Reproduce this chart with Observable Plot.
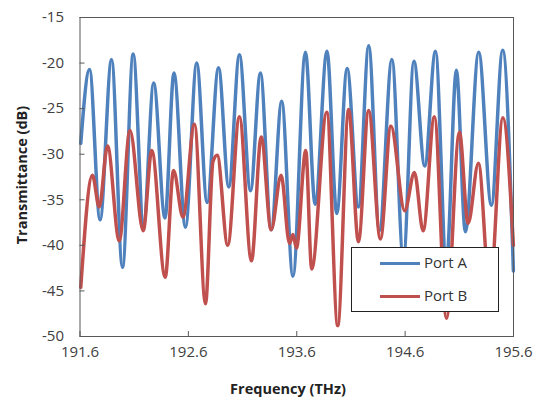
<!DOCTYPE html>
<html><head><meta charset="utf-8">
<script src="https://cdn.jsdelivr.net/npm/d3@7"></script>
<script src="https://cdn.jsdelivr.net/npm/@observablehq/plot@0.6"></script>
<style>
body{margin:0;background:#fff;}
#wrap{position:relative;width:539px;height:400px;font-family:"Open Sans",sans-serif;color:#404040;}
#legend{position:absolute;left:351px;top:247px;width:148px;height:65px;background:#fff;border:1px solid #222;box-sizing:border-box;}
.li{position:absolute;left:28px;width:40px;height:3px;}
.lt{position:absolute;left:72px;font-size:15px;color:#333;line-height:20px;}
#xt{position:absolute;left:0;width:576px;top:379px;text-align:center;font-weight:bold;font-size:14.5px;color:#222;}
#yt{position:absolute;left:21px;top:175px;transform:translate(-50%,-50%) rotate(-90deg);font-weight:bold;font-size:14.5px;color:#222;white-space:nowrap;}
</style></head><body><div id="wrap"></div>
<script>
const freqA = [191.607,191.688,191.785,191.891,191.992,192.091,192.186,192.280,192.384,192.467,192.573,192.677,192.773,192.878,192.973,193.071,193.173,193.265,193.364,193.461,193.565,193.680,193.770,193.879,193.969,194.065,194.169,194.264,194.363,194.478,194.584,194.681,194.781,194.880,194.981,195.073,195.156,195.279,195.396,195.500,195.599];
const dbA = [-28.8,-20.7,-37.2,-19.6,-42.4,-19.0,-37.8,-22.2,-37.0,-21.1,-38.0,-20.0,-35.3,-20.5,-33.6,-19.1,-34.0,-21.1,-38.3,-24.2,-43.4,-18.8,-35.5,-18.7,-36.5,-20.6,-35.8,-18.1,-38.4,-19.6,-41.5,-19.8,-31.3,-18.7,-42.0,-20.8,-38.5,-18.8,-35.6,-18.6,-42.8];
const freqB = [191.607,191.715,191.777,191.854,191.962,192.061,192.183,192.262,192.386,192.463,192.550,192.656,192.758,192.827,192.866,192.963,193.071,193.182,193.272,193.364,193.456,193.533,193.565,193.597,193.683,193.738,193.877,193.978,194.079,194.169,194.263,194.372,194.469,194.596,194.686,194.766,194.870,194.981,195.101,195.181,195.276,195.382,195.502,195.599];
const dbB = [-44.6,-32.3,-35.8,-29.1,-39.5,-27.4,-38.4,-29.6,-43.5,-31.8,-36.9,-26.7,-46.4,-30.8,-30.1,-40.0,-25.9,-41.7,-28.1,-38.3,-32.3,-39.8,-38.8,-40.3,-29.6,-42.6,-25.4,-48.8,-25.1,-39.6,-25.2,-39.3,-26.9,-36.2,-32.0,-38.4,-25.9,-48.0,-27.6,-37.6,-31.0,-45.0,-26.0,-40.0];
const seriesNames = ["Port A","Port B"];
const seriesColors = ["#4F81BD","#C0504D"];
const xTicks = [191.6,192.6,193.6,194.6,195.6];
const yTicks = [-50,-45,-40,-35,-30,-25,-20,-15];
const xTitle = "Frequency (THz)";
const yTitle = "Transmittance (dB)";

const rowsA = freqA.map((f,i)=>({f, v: dbA[i]}));
const rowsB = freqB.map((f,i)=>({f, v: dbB[i]}));

const chart = Plot.plot({
  width: 539, height: 400,
  marginLeft: 79.5, marginRight: 26, marginTop: 17, marginBottom: 64,
  style: {fontFamily: "'Open Sans', sans-serif", fontSize: "15px", color: "#404040", background: "white", overflow: "visible"},
  x: {domain: [191.6, 195.6]},
  y: {domain: [-50, -15]},
  marks: [
    Plot.lineY(rowsA, {x: "f", y: "v", stroke: seriesColors[0], strokeWidth: 3.5, curve: "monotone-x"}),
    Plot.lineY(rowsB, {x: "f", y: "v", stroke: seriesColors[1], strokeWidth: 3.5, curve: "monotone-x"}),
    Plot.frame({stroke: "#595959"}),
    Plot.axisX({ticks: xTicks, tickFormat: d => d.toFixed(1), tickSize: -5, tickPadding: 15, label: null, stroke: "#595959"}),
    Plot.axisY({ticks: yTicks, tickFormat: d => String(d), tickSize: -5, tickPadding: 21, label: null, stroke: "#595959"})
  ]
});
const wrap = document.getElementById("wrap");
wrap.appendChild(chart);

const lg = document.createElement("div");
lg.id = "legend";
seriesNames.forEach((n,i)=>{
  const y = 15 + i*33;
  const l = document.createElement("div"); l.className = "li"; l.style.top = (y-1)+"px"; l.style.background = seriesColors[i];
  const t = document.createElement("div"); t.className = "lt"; t.style.top = (y-11)+"px"; t.textContent = n;
  lg.appendChild(l); lg.appendChild(t);
});
wrap.appendChild(lg);
const xt = document.createElement("div"); xt.id = "xt"; xt.textContent = xTitle; wrap.appendChild(xt);
const yt = document.createElement("div"); yt.id = "yt"; yt.textContent = yTitle; wrap.appendChild(yt);
</script>
</body></html>
